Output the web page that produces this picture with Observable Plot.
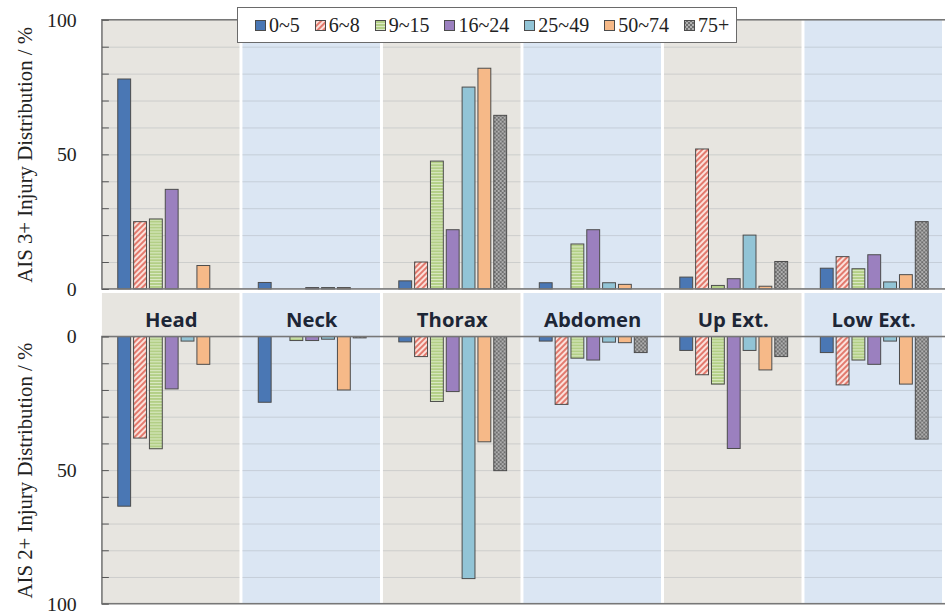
<!DOCTYPE html>
<html>
<head>
<meta charset="utf-8">
<script src="https://cdn.jsdelivr.net/npm/d3@7"></script>
<script src="https://cdn.jsdelivr.net/npm/@observablehq/plot@0.6"></script>
<style>
  html, body { margin: 0; padding: 0; overflow: hidden; background: #fff; }
  #chart { position: relative; width: 945px; height: 615px; overflow: hidden; }
  #chart > svg, #chart > figure { position: absolute; left: 0; margin: 0; }
  #legend {
    position: absolute; left: 237px; top: 7px; width: 500px; height: 36px;
    box-sizing: border-box; border: 1.5px solid #6a6a6a; background: #fff;
    display: flex; align-items: center; gap: 15px; padding-left: 17px;
    font: 20px "Liberation Serif", "Times New Roman", serif; color: #222; z-index: 5;
  }
  #legend .item { display: flex; align-items: center; gap: 3px; }
  #legend svg { display: block; }
</style>
</head>
<body>
<!-- fill patterns shared by the bars and the legend swatches -->
<svg width="0" height="0" style="position:absolute">
  <defs>
    <pattern id="hatch-red" patternUnits="userSpaceOnUse" width="4" height="4" patternTransform="rotate(45)">
      <rect width="4" height="4" fill="#fbe1db"></rect>
      <rect width="2" height="4" fill="#e27a6e"></rect>
    </pattern>
    <pattern id="lines-green" patternUnits="userSpaceOnUse" width="4" height="3">
      <rect width="4" height="3" fill="#b3cf86"></rect>
      <rect width="4" height="1" fill="#dbe9c5"></rect>
    </pattern>
    <pattern id="dots-gray" patternUnits="userSpaceOnUse" width="4" height="4">
      <rect width="4" height="4" fill="#6e6e6e"></rect>
      <circle cx="1" cy="1" r="0.9" fill="#cfcfcf"></circle>
      <circle cx="3" cy="3" r="0.9" fill="#cfcfcf"></circle>
    </pattern>
  </defs>
</svg>
<div id="chart"></div>
<script>
// Body regions (panels) and age groups (bars within each panel)
const regions = ["Head", "Neck", "Thorax", "Abdomen", "Up Ext.", "Low Ext."];
const ageGroups = ["0~5", "6~8", "9~15", "16~24", "25~49", "50~74", "75+"];

// Share of injuries per region, %, one row per region, one column per age group
const ais3Share = [
  [78.0, 25.0, 26.0, 37.0, null, 8.7, null],
  [2.4, null, null, 0.5, 0.5, 0.5, null],
  [3.0, 10.0, 47.5, 22.0, 75.0, 82.0, 64.5],
  [2.3, null, 16.7, 22.0, 2.3, 1.7, null],
  [4.4, 52.0, 1.3, 3.8, 20.0, 1.0, 10.2],
  [7.7, 12.0, 7.5, 12.7, 2.6, 5.3, 25.0]
];
const ais2Share = [
  [63.5, 38.0, 42.0, 19.6, 1.7, 10.4, null],
  [24.6, null, 1.5, 1.5, 1.0, 20.0, 0.5],
  [2.0, 7.5, 24.3, 20.6, 90.6, 39.4, 50.2],
  [1.7, 25.4, 8.1, 8.8, 2.1, 2.3, 6.0],
  [5.2, 14.3, 17.8, 41.9, 5.2, 12.5, 7.5],
  [6.0, 18.1, 8.8, 10.4, 1.7, 17.8, 38.4]
];

// Axis ticks: every 10 %, labelled at 0, 50 and 100
const yTicks = [0, 10, 20, 30, 40, 50, 60, 70, 80, 90, 100];
const yTickLabels = [0, 50, 100];
const gridLevels = [10, 20, 30, 40, 50, 60, 70, 80, 90];

// Styling
const ageFills = ["#4a77b4", "url(#hatch-red)", "url(#lines-green)", "#9b80bf", "#92c4d6", "#f6b988", "url(#dots-gray)"];
const panelGray = "#e7e5e0";
const panelBlue = "#dbe6f3";
const serif = "'Liberation Serif', 'Times New Roman', serif";

const tidy = (rows) => regions.flatMap((region, i) =>
  ageGroups.map((age, j) => ({region, age, value: rows[i][j]})));

function panel({rows, title, top, height, marginTop, marginBottom, reverse, withLabels}) {
  const bandInset = withLabels ? -44 : 0;
  const marks = [
    // alternating panel backgrounds (extended into the label band for the lower panel)
    Plot.barY(regions.filter((d, i) => i % 2 === 0), {fx: d => d, y1: 0, y2: 100, fill: panelGray, insetTop: bandInset}),
    Plot.barY(regions.filter((d, i) => i % 2 === 1), {fx: d => d, y1: 0, y2: 100, fill: panelBlue, insetTop: bandInset}),
    Plot.ruleY(gridLevels, {stroke: "#9aa0a8", strokeOpacity: 0.35, strokeWidth: 1}),
    Plot.barY(tidy(rows).filter(d => d.value != null), {
      fx: "region", x: "age", y: "value", fill: "age",
      stroke: "#4b4b4b", strokeWidth: 1
    }),
    // plot frame: left edge, top and bottom edges running across all panels
    Plot.barY([regions[0]], {fx: d => d, y1: 0, y2: 100, fill: "none", stroke: "#777", strokeWidth: 1.6, insetRight: -1000}),
    Plot.axisY({
      ticks: yTicks, tickFormat: d => yTickLabels.includes(d) ? String(d) : "",
      tickSize: 7, dx: 7, tickPadding: 26, stroke: "#555",
      fontSize: 20, fontFamily: serif, label: null
    }),
    // vertical axis title, drawn beside the first panel
    Plot.text([title], {
      fx: () => regions[0], text: d => d, frameAnchor: "left", textAnchor: "middle",
      dx: -78, rotate: -90, fontSize: 21, fontFamily: serif, fill: "#222"
    })
  ];
  if (withLabels) {
    marks.push(Plot.text(regions, {
      fx: d => d, text: d => d, frameAnchor: "top", dy: -25,
      fontFamily: "'Open Sans', sans-serif", fontWeight: 700, fontSize: 20.5, fill: "#1d2636"
    }));
  }
  const svg = Plot.plot({
    width: 955, height, marginLeft: 100, marginRight: 0, marginTop, marginBottom,
    style: {background: "transparent", fontFamily: serif, fontSize: "20px", color: "#222", overflow: "visible"},
    fx: {domain: regions, paddingInner: 0.02, paddingOuter: 0, axis: null},
    x: {domain: ageGroups, paddingInner: 0.16, paddingOuter: 0.77, align: 0.54, axis: null},
    y: {domain: [0, 100], reverse},
    color: {domain: ageGroups, range: ageFills},
    marks
  });
  svg.style.top = top + "px";
  return svg;
}

const chart = document.getElementById("chart");
chart.append(panel({
  rows: ais3Share, title: "AIS 3+ Injury Distribution / %",
  top: 0, height: 300, marginTop: 20, marginBottom: 8, reverse: false, withLabels: false
}));
chart.append(panel({
  rows: ais2Share, title: "AIS 2+ Injury Distribution / %",
  top: 293, height: 322, marginTop: 44, marginBottom: 8, reverse: true, withLabels: true
}));

// legend box with swatches using the same fills as the bars
const legend = document.createElement("div");
legend.id = "legend";
ageGroups.forEach((age, i) => {
  const item = document.createElement("span");
  item.className = "item";
  item.innerHTML = `<svg width="11" height="11"><rect x="0.5" y="0.5" width="10" height="10" fill="${ageFills[i]}" stroke="#4b4b4b"></rect></svg><span>${age}</span>`;
  legend.append(item);
});
chart.append(legend);
</script>
</body>
</html>
